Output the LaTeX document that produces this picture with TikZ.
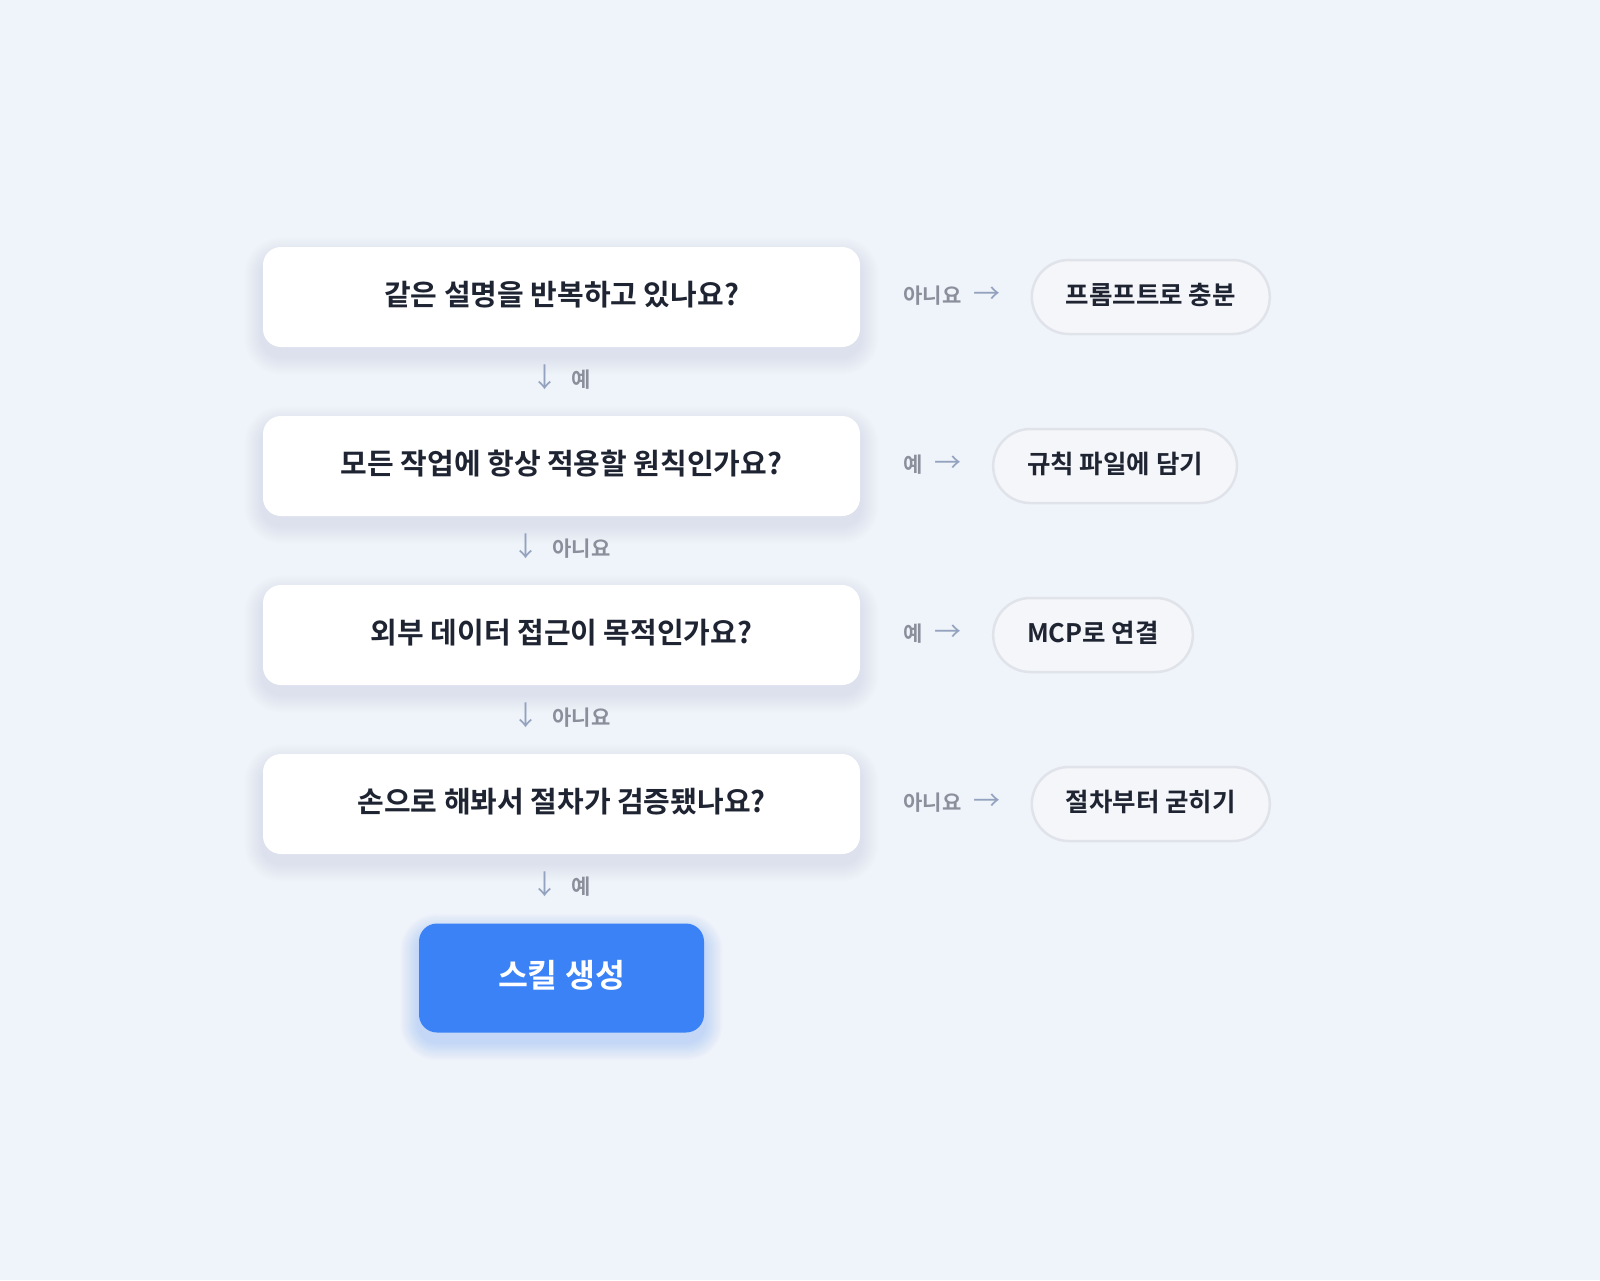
\documentclass[tikz,border=0pt]{standalone}
\usepackage{fontspec}
\setmainfont{Noto Sans CJK KR}[BoldFont={Noto Sans CJK KR Bold}]
\usetikzlibrary{positioning, calc, backgrounds}

\definecolor{bgc}{HTML}{EFF3FA}
\definecolor{textc}{HTML}{1F2432}
\definecolor{labelc}{HTML}{8A8F9B}
\definecolor{arrowc}{HTML}{93A2BE}
\definecolor{pillc}{HTML}{F5F6F9}
\definecolor{pilledge}{HTML}{E0E3EA}
\definecolor{shadc}{HTML}{8D99B5}
\definecolor{skillc}{HTML}{3B82F6}

% #1 노드, #2 그림자 색, #3 농도
\newcommand{\softshadow}[3]{%
  \begin{pgfonlayer}{background}
    \foreach \e in {1,...,9}
      \fill[#2, opacity=#3, rounded corners={18pt+2pt*\e}]
        ($(#1.south west)+(-2*\e, 9+2*\e)$) rectangle ($(#1.north east)+(2*\e, 9-2*\e)$);
  \end{pgfonlayer}
}

\tikzset{
  question/.style={fill=white, rounded corners=18pt, minimum width=597pt,
    minimum height=100pt, text=textc, font=\bfseries\fontsize{29}{34}\selectfont,
    text height=22pt, text depth=6pt},
  result/.style={fill=pillc, draw=pilledge, line width=2.5pt, rounded corners=37pt,
    minimum height=74pt, inner xsep=34pt, text=textc,
    font=\bfseries\fontsize{25.5}{30}\selectfont, text height=19pt, text depth=5pt},
  branch/.style={inner sep=0pt, text=labelc, font=\bfseries\fontsize{21}{25}\selectfont,
    text height=16pt, text depth=4pt},
  skill/.style={fill=skillc, rounded corners=18pt, minimum width=285pt,
    minimum height=109pt, text=white, font=\bfseries\fontsize{32.5}{38}\selectfont,
    text height=24pt, text depth=6pt},
}
\newcommand{\arr}[1]{{\color{arrowc}\fontsize{27}{30}\selectfont\mdseries #1}}

\begin{document}
\begin{tikzpicture}[x=1pt, y=-1pt]
  % 배경
  \begin{pgfonlayer}{background}
    \fill[bgc] (0,0) rectangle (1600,1280);
  \end{pgfonlayer}
  \useasboundingbox (0,0) rectangle (1600,1280);

  % 질문 상자와 오른쪽 갈래
  % \i---질문 번호
  % \q---질문
  % \ans---오른쪽으로 가는 답
  % \res---결과
  \foreach \i/\q/\ans/\res in
  {
    1/{같은 설명을 반복하고 있나요?}/아니요/{프롬프트로 충분},
    2/{모든 작업에 항상 적용할 원칙인가요?}/예/{규칙 파일에 담기},
    3/{외부 데이터 접근이 목적인가요?}/예/{MCP로 연결},
    4/{손으로 해봐서 절차가 검증됐나요?}/아니요/{절차부터 굳히기}}
  {
    \node[question] (q\i) at (561.5, {128+169*\i}) {\q};
    \softshadow{q\i}{shadc}{0.017}
    \node[branch, anchor=west] (b\i) at ($(q\i.east)+(43,0)$)
      {\ans\hspace{12pt}\arr{→}};
    \node[result, right=30pt of b\i] (r\i) {\res};
  }

  % 최종 결과
  \node[skill] (s) at (561.5, 978) {스킬 생성};
  \softshadow{s}{skillc}{0.028}

  % 아래로 가는 답
  \foreach \a/\b/\ans in {q1/q2/예, q2/q3/아니요, q3/q4/아니요, q4/s/예}
  {
    \node[branch] (d\a) at ($(\a.south)!0.5!(\b.north)$)
      {\arr{↓}\hspace{13pt}\ans};
  }
\end{tikzpicture}
\end{document}
